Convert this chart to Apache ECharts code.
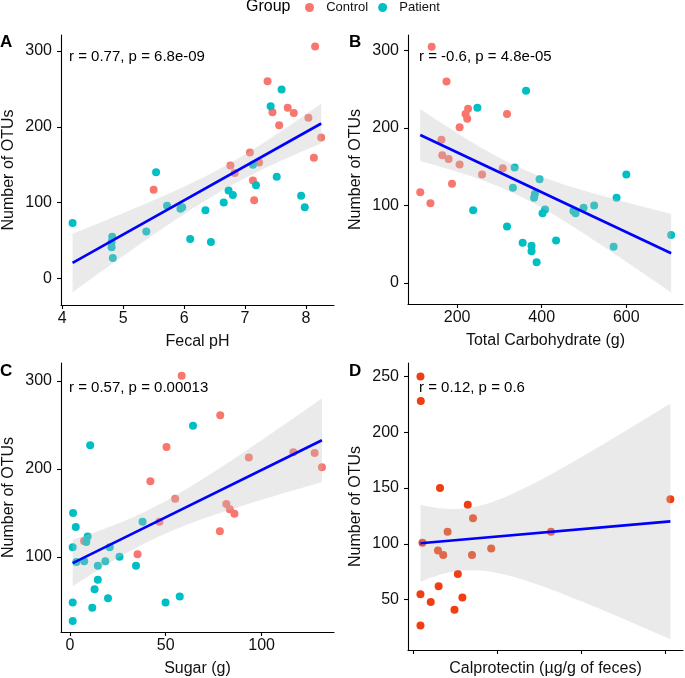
<!DOCTYPE html>
<html>
<head>
<meta charset="utf-8">
<script src="https://cdn.jsdelivr.net/npm/echarts@6/dist/echarts.min.js"></script>
<style>
html,body{margin:0;padding:0;background:#fff;}
#chart{width:685px;height:678px;}
</style>
</head>
<body>
<div id="chart"></div>
<script>
// ---- Data ----
// Panel A: Fecal pH vs Number of OTUs
const phControlX = [8.15,7.37,7.45,7.70,7.80,7.56,8.04,8.25,8.13,7.08,6.76,6.83,7.23,7.13,7.15,5.50];
const phControlY = [306,260,219,225,218,202,212,186,159,166,149,139,153,129,103,117];
const phPatientX = [7.60,7.42,7.13,7.52,7.18,7.92,7.98,6.73,6.80,6.65,6.35,6.10,6.44,5.54,5.72,5.94,5.97,5.38,4.82,4.81,4.81,4.83,4.17];
const phPatientY = [249,227,150,134,123,109,94,116,110,100,90,52,48,140,96,92,94,62,55,48,41,27,73];
// Panel B: Total Carbohydrate (g)
const carbControlX = [140,175,226,220,224,206,318,163,165,180,206,259,308,188,113,137];
const carbControlY = [305,260,225,218,212,201,218,185,165,160,153,140,148,128,117,103];
const carbPatientX = [363,248,336,395,332,384,382,600,577,524,499,475,480,408,402,238,318,355,376,376,388,434,570,706];
const carbPatientY = [248,226,149,134,123,115,110,140,110,100,97,93,90,95,90,94,73,52,48,41,27,55,47,62];
// Panel C: Sugar (g)
const sugarControlX = [58.3,78.4,50.4,42.0,54.9,93.3,116.5,127.6,131.4,81.6,83.4,85.8,78.2,46.7,35.3,7.4];
const sugarControlY = [306,261,225,186,166,213,219,218,202,160,154,149,129,140,103,118];
const sugarPatientX = [64.2,10.6,1.7,3.1,37.9,9.3,8.6,1.5,20.8,7.5,3.4,18.5,14.6,25.9,34.5,14.6,12.9,19.9,57.3,49.9,1.5,11.7,1.5];
const sugarPatientY = [249,227,150,134,140,123,117,111,111,95,94,95,90,100,90,74,63,53,55,48,48,42,27];
// Panel D: Calprotectin (x scale unlabeled in the reference)
const calproX = [45,47,161,326,357,206,820,1529,57,149,180,351,465,267,153,45,106,294,247,45];
const calproY = [250,228,150,135,123,111,111,140,101,94,90,90,96,73,62,55,48,52,41,27];

// Tick values
const ticksAx = [4,5,6,7,8];
const ticksAy = [0,100,200,300];
const ticksBx = [200,400,600];
const ticksBy = [0,100,200,300];
const ticksCx = [0,50,100];
const ticksCy = [100,200,300];
const ticksDx = [0,500,1000,1500];
const ticksDy = [50,100,150,200,250];

const annotA = 'r = 0.77, p = 6.8e-09';
const annotB = 'r = -0.6, p = 4.8e-05';
const annotC = 'r = 0.57, p = 0.00013';
const annotD = 'r = 0.12, p = 0.6';

// ---- Style ----
const FONT = 'Liberation Sans, Arial, Helvetica, sans-serif';
const RED = '#F8766D', TEAL = '#00BFC4', ORANGE = '#EF3F12';
const RIBBON = 'rgba(190,190,190,0.33)';

// t quantile (0.975) via Cornish-Fisher expansion
function tQ(df){
  const z = 1.959964;
  const g1 = (Math.pow(z,3)+z)/4;
  const g2 = (5*Math.pow(z,5)+16*Math.pow(z,3)+3*z)/96;
  const g3 = (3*Math.pow(z,7)+19*Math.pow(z,5)+17*Math.pow(z,3)-15*z)/384;
  return z + g1/df + g2/(df*df) + g3/(df*df*df);
}
// Linear model fit with 95% confidence band (like geom_smooth(method='lm'))
function fit(xs, ys){
  const n = xs.length;
  const mx = xs.reduce((a,b)=>a+b,0)/n, my = ys.reduce((a,b)=>a+b,0)/n;
  let sxx=0, sxy=0;
  for(let i=0;i<n;i++){ sxx += (xs[i]-mx)**2; sxy += (xs[i]-mx)*(ys[i]-my); }
  const b = sxy/sxx, a = my - b*mx;
  let sse=0; for(let i=0;i<n;i++){ sse += (ys[i]-a-b*xs[i])**2; }
  const s = Math.sqrt(sse/(n-2)), t = tQ(n-2);
  const xmin = Math.min(...xs), xmax = Math.max(...xs);
  const upper=[], lower=[];
  const N=80;
  for(let i=0;i<=N;i++){
    const x = xmin + (xmax-xmin)*i/N;
    const yh = a+b*x;
    const se = s*Math.sqrt(1/n + (x-mx)**2/sxx);
    upper.push([x, yh+t*se]); lower.push([x, yh-t*se]);
  }
  return {line:[[xmin,a+b*xmin],[xmax,a+b*xmax]], upper, lower};
}
const zip = (xs, ys) => xs.map((x,i)=>[x, ys[i]]);

const grids = [
  {left:58, top:35, width:276, height:270},
  {left:408, top:35, width:275, height:269},
  {left:58, top:363, width:276, height:270},
  {left:408, top:363, width:275, height:288}
];

function xAxis(idx, name, min, max, ticks, showLabels, gap){
  return {
    type:'value', gridIndex:idx, min:min, max:max, name:name, nameLocation:'middle', nameGap:gap,
    nameTextStyle:{fontFamily:FONT, fontSize:16, color:'#111'},
    axisLine:{show:true, onZero:false, lineStyle:{color:'#000', width:1.1}},
    axisTick:{show:true, length:4, lineStyle:{color:'#000', width:1.1}, customValues:ticks},
    axisLabel:{show:showLabels, customValues:ticks, fontFamily:FONT, fontSize:16, color:'#111', margin:6},
    splitLine:{show:false}
  };
}
function yAxis(idx, min, max, ticks){
  return {
    type:'value', gridIndex:idx, min:min, max:max, name:'Number of OTUs', nameLocation:'middle', nameGap:44,
    nameTextStyle:{fontFamily:FONT, fontSize:16, color:'#111'},
    axisLine:{show:true, onZero:false, lineStyle:{color:'#000', width:1.1}},
    axisTick:{show:true, length:4, lineStyle:{color:'#000', width:1.1}, customValues:ticks},
    axisLabel:{show:true, customValues:ticks, fontFamily:FONT, fontSize:16, color:'#111', margin:9},
    splitLine:{show:false}
  };
}

function ribbonSeries(idx, f){
  return {
    type:'custom', xAxisIndex:idx, yAxisIndex:idx, z:5, silent:true,
    data:[f.upper[0]],
    renderItem:function(params, api){
      const pts = f.upper.map(p=>api.coord(p)).concat(f.lower.slice().reverse().map(p=>api.coord(p)));
      return {type:'polygon', shape:{points:pts}, style:{fill:RIBBON}};
    }
  };
}
function lineSeries(idx, f){
  return {type:'line', xAxisIndex:idx, yAxisIndex:idx, z:6, silent:true, showSymbol:false,
    data:f.line, lineStyle:{color:'#0000FF', width:2.6}};
}
function scatter(idx, name, xs, ys, color){
  return {type:'scatter', name:name, xAxisIndex:idx, yAxisIndex:idx, z:2, symbolSize:8,
    data:zip(xs,ys), itemStyle:{color:color, opacity:1}};
}

const fA = fit(phControlX.concat(phPatientX), phControlY.concat(phPatientY));
const fB = fit(carbControlX.concat(carbPatientX), carbControlY.concat(carbPatientY));
const fC = fit(sugarControlX.concat(sugarPatientX), sugarControlY.concat(sugarPatientY));
const fD = fit(calproX, calproY);

function txt(x, y, s, size, bold){
  return {type:'text', left:x, top:y, style:{text:s, font:(bold?'bold ':'')+size+'px '+FONT, fill:'#000'}};
}

const option = {
  animation:false,
  backgroundColor:'#fff',
  grid:grids,
  legend:{
    data:['Control','Patient'], top:1, left:305, padding:0, itemGap:10,
    icon:'circle', itemWidth:9, itemHeight:9,
    formatter: n => '  ' + n,
    textStyle:{fontFamily:FONT, fontSize:13, color:'#111'}
  },
  xAxis:[
    xAxis(0,'Fecal pH',3.98,8.46,ticksAx,true,29),
    xAxis(1,'Total Carbohydrate (g)',84,734,ticksBx,true,29),
    xAxis(2,'Sugar (g)',-4.6,137.7,ticksCx,true,29),
    xAxis(3,'Calprotectin (\u00b5g/g of feces)',-29,1604,ticksDx,false,11)
  ],
  yAxis:[
    yAxis(0,-35,321,ticksAy),
    yAxis(1,-27,320,ticksBy),
    yAxis(2,14.5,320.5,ticksCy),
    yAxis(3,5,262,ticksDy)
  ],
  graphic:[
    txt(246,-1,'Group',16,false),
    txt(0,34,'A',17,true),
    txt(349,34,'B',17,true),
    txt(0,363,'C',17,true),
    txt(349,363,'D',17,true),
    txt(69,49,annotA,15,false),
    txt(419,49,annotB,15,false),
    txt(69,380,annotC,15,false),
    txt(419,380,annotD,15,false)
  ],
  series:[
    scatter(0,'Control',phControlX,phControlY,RED),
    scatter(0,'Patient',phPatientX,phPatientY,TEAL),
    ribbonSeries(0,fA), lineSeries(0,fA),
    scatter(1,'Control',carbControlX,carbControlY,RED),
    scatter(1,'Patient',carbPatientX,carbPatientY,TEAL),
    ribbonSeries(1,fB), lineSeries(1,fB),
    scatter(2,'Control',sugarControlX,sugarControlY,RED),
    scatter(2,'Patient',sugarPatientX,sugarPatientY,TEAL),
    ribbonSeries(2,fC), lineSeries(2,fC),
    scatter(3,'Calprotectin',calproX,calproY,ORANGE),
    ribbonSeries(3,fD), lineSeries(3,fD)
  ]
};
const chart = echarts.init(document.getElementById('chart'), null, {renderer:'canvas'});
chart.setOption(option);
</script>
</body>
</html>
